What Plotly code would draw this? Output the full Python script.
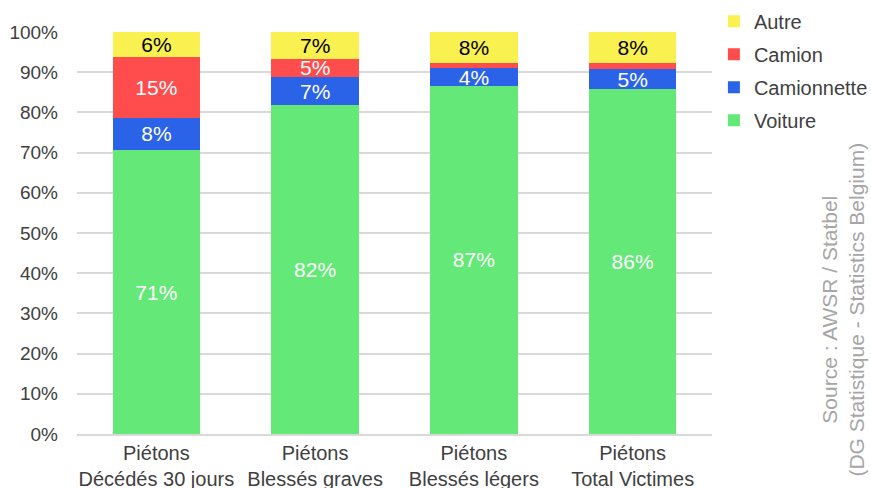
import plotly.graph_objects as go

categories = [
    "Piétons<br>Décédés 30 jours",
    "Piétons<br>Blessés graves",
    "Piétons<br>Blessés légers",
    "Piétons<br>Total Victimes",
]

# share of pedestrian victims by opposing vehicle type (%)
voiture = [70.6, 81.8, 86.6, 85.8]
camionnette = [8.1, 7.0, 4.4, 4.9]
camion = [15.0, 4.6, 1.2, 1.5]
autre = [6.3, 6.6, 7.8, 7.8]

# name, values, colour, label colour, legend rank
series = [
    ("Voiture", voiture, "#64E877", "white", 4),
    ("Camionnette", camionnette, "#2B63E8", "white", 3),
    ("Camion", camion, "#FF4D4D", "white", 2),
    ("Autre", autre, "#F9F150", "black", 1),
]

FONT = "Liberation Sans, Arial, sans-serif"

fig = go.Figure()
for name, vals, color, tcolor, rank in series:
    labels = [f"{v:.0f}%" if v >= 3 else "" for v in vals]
    fig.add_trace(go.Bar(
        name=name,
        x=categories,
        y=vals,
        marker=dict(color=color, line=dict(width=0)),
        text=labels,
        texttemplate="%{text}",
        textposition="inside",
        insidetextanchor="middle",
        textangle=0,
        constraintext="none",
        textfont=dict(family=FONT, size=21, color=tcolor),
        legendgroup=name,
        legendrank=rank,
        hoverinfo="skip",
    ))

fig.update_layout(
    width=871,
    height=488,
    barmode="stack",
    bargap=0.45,
    plot_bgcolor="white",
    paper_bgcolor="white",
    margin=dict(l=77, r=159, t=32, b=54, autoexpand=False),
    font=dict(family=FONT, size=19, color="#404040"),
    uniformtext=dict(minsize=21, mode="show"),
    showlegend=True,
    legend=dict(
        traceorder="grouped",
        tracegroupgap=4,
        x=1.003,
        y=1.075,
        xanchor="left",
        yanchor="top",
        font=dict(family=FONT, size=20, color="#404040"),
        itemwidth=30,
        bgcolor="rgba(0,0,0,0)",
    ),
    xaxis=dict(
        showgrid=False,
        showline=True,
        linecolor="#d9d9d9",
        linewidth=2,
        tickfont=dict(family=FONT, size=20, color="#404040"),
        ticks="",
    ),
    yaxis=dict(
        range=[0, 100],
        dtick=10,
        ticksuffix="%",
        showgrid=True,
        gridcolor="#d9d9d9",
        gridwidth=2,
        zeroline=False,
        ticks="",
        ticklabelstandoff=18,
        tickfont=dict(family=FONT, size=19, color="#404040"),
    ),
    annotations=[
        dict(
            text="Source : AWSR / Statbel<br>(DG Statistique - Statistics Belgium)",
            xref="paper",
            yref="paper",
            x=1.2066,
            y=0.31,
            xanchor="center",
            yanchor="middle",
            showarrow=False,
            textangle=-90,
            font=dict(family=FONT, size=21, color="#A6A6A6"),
            align="center",
        )
    ],
)

fig.write_html("out.html")
